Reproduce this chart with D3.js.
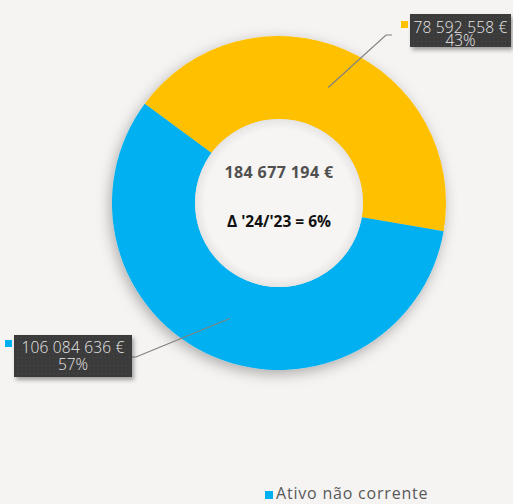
<!DOCTYPE html>
<html>
<head>
<meta charset="utf-8">
<script src="https://cdn.jsdelivr.net/npm/d3@7"></script>
<style>
  body { margin: 0; background: #f5f4f2; }
  svg { display: block; }
</style>
</head>
<body>
<div id="chart"></div>
<script>
var width = 513, height = 504;
var cx = 279, cy = 203;
var outerR = 167, innerR = 84;

// data
var categories = ["Ativo corrente", "Ativo não corrente"];
var values = [78592558, 106084636];
var valueLabels = ["78 592 558 €", "106 084 636 €"];
var pctLabels = ["43%", "57%"];
var colors = ["#FFC000", "#00B0F0"];
var totalLabel = "184 677 194 €";
var deltaLabel = "Δ '24/'23 = 6%";

var svg = d3.select("#chart").append("svg").attr("width", width).attr("height", height);
var defs = svg.append("defs");

var shadow = defs.append("filter").attr("id", "shadow").attr("x", "-30%").attr("y", "-30%").attr("width", "160%").attr("height", "160%");
shadow.append("feDropShadow").attr("dx", -2).attr("dy", 4).attr("stdDeviation", 7)
  .attr("flood-color", "#000").attr("flood-opacity", 0.3);

var boxShadow = defs.append("filter").attr("id", "boxShadow").attr("x", "-20%").attr("y", "-30%").attr("width", "140%").attr("height", "180%");
boxShadow.append("feDropShadow").attr("dx", 2).attr("dy", 3).attr("stdDeviation", 2)
  .attr("flood-color", "#000").attr("flood-opacity", 0.35);

var pat = defs.append("pattern").attr("id", "dots").attr("width", 4).attr("height", 4).attr("patternUnits", "userSpaceOnUse");
pat.append("rect").attr("width", 4).attr("height", 4).attr("fill", "#3a3a3a");
pat.append("rect").attr("x", 1).attr("y", 1).attr("width", 1).attr("height", 1).attr("fill", "#4a4a4a");

var holeGrad = defs.append("radialGradient").attr("id", "hole");
holeGrad.append("stop").attr("offset", "0%").attr("stop-color", "#f6f5f3");
holeGrad.append("stop").attr("offset", "88%").attr("stop-color", "#f6f5f3");
holeGrad.append("stop").attr("offset", "100%").attr("stop-color", "#e6e5e3");

var start = -53.5 * Math.PI / 180;
var pie = d3.pie().sort(null).startAngle(start).endAngle(start + 2 * Math.PI);
var arcs = pie(values);
var arc = d3.arc().innerRadius(innerR).outerRadius(outerR);
var midArc = d3.arc().innerRadius((innerR + outerR) / 2).outerRadius((innerR + outerR) / 2);

var g = svg.append("g").attr("transform", "translate(" + cx + "," + cy + ")");

g.append("g").attr("filter", "url(#shadow)")
  .selectAll("path").data(arcs).enter().append("path")
  .attr("d", arc)
  .attr("fill", function(d, i) { return colors[i]; });

g.append("circle").attr("r", innerR).attr("fill", "url(#hole)");

// center texts
g.append("text").attr("y", -25).attr("text-anchor", "middle")
  .style("font-family", "Open Sans").style("font-weight", 700).style("font-size", "16px")
  .style("letter-spacing", "0.4px")
  .attr("fill", "#505050").text(totalLabel);
g.append("text").attr("y", 24).attr("text-anchor", "middle")
  .style("font-family", "Open Sans").style("font-weight", 700).style("font-size", "15.5px")
  .attr("fill", "#111").text(deltaLabel);

// labels: elbow point, box and line spacing
var labelPos = [
  { elbow: [386, 35], end: [392, 35], box: [410, 14, 101, 33], marker: [401, 21], base: 19, gap: 12.5 },
  { elbow: [136, 357], end: [132, 357], box: [14, 335, 118, 42], marker: [5, 340], base: 18, gap: 17 }
];

arcs.forEach(function(d, i) {
  var p = labelPos[i];
  var c = midArc.centroid(d);
  svg.append("polyline")
    .attr("points", [[cx + c[0], cy + c[1]], p.elbow, p.end].map(function(q) { return q.join(","); }).join(" "))
    .attr("fill", "none").attr("stroke", "#808080").attr("stroke-width", 1.2);

  var b = svg.append("g");
  b.append("rect").attr("x", p.box[0]).attr("y", p.box[1]).attr("width", p.box[2]).attr("height", p.box[3])
    .attr("fill", "url(#dots)").attr("filter", "url(#boxShadow)");
  b.append("rect").attr("x", p.marker[0]).attr("y", p.marker[1]).attr("width", 7).attr("height", 7)
    .attr("fill", colors[i]);
  var tx = p.box[0] + p.box[2] / 2;
  b.append("text").attr("text-anchor", "middle").attr("x", tx).attr("y", p.box[1] + p.base)
    .style("font-family", "Open Sans").style("font-weight", 300).style("font-size", "15.5px")
    .style("letter-spacing", "0.2px")
    .attr("fill", "#e8e8e8").text(valueLabels[i]);
  b.append("text").attr("text-anchor", "middle").attr("x", tx).attr("y", p.box[1] + p.base + p.gap)
    .style("font-family", "Open Sans").style("font-weight", 300).style("font-size", "15.5px")
    .attr("fill", "#e8e8e8").text(pctLabels[i]);
});

// legend (only visible entry)
var leg = svg.append("g").attr("transform", "translate(265,491)");
leg.append("rect").attr("width", 8).attr("height", 8).attr("fill", colors[1]);
leg.append("text").attr("x", 11).attr("y", 8)
  .style("font-family", "Open Sans").style("font-size", "16px").style("letter-spacing", "0.8px")
  .attr("fill", "#595959")
  .text(categories[1]);
</script>
</body>
</html>
